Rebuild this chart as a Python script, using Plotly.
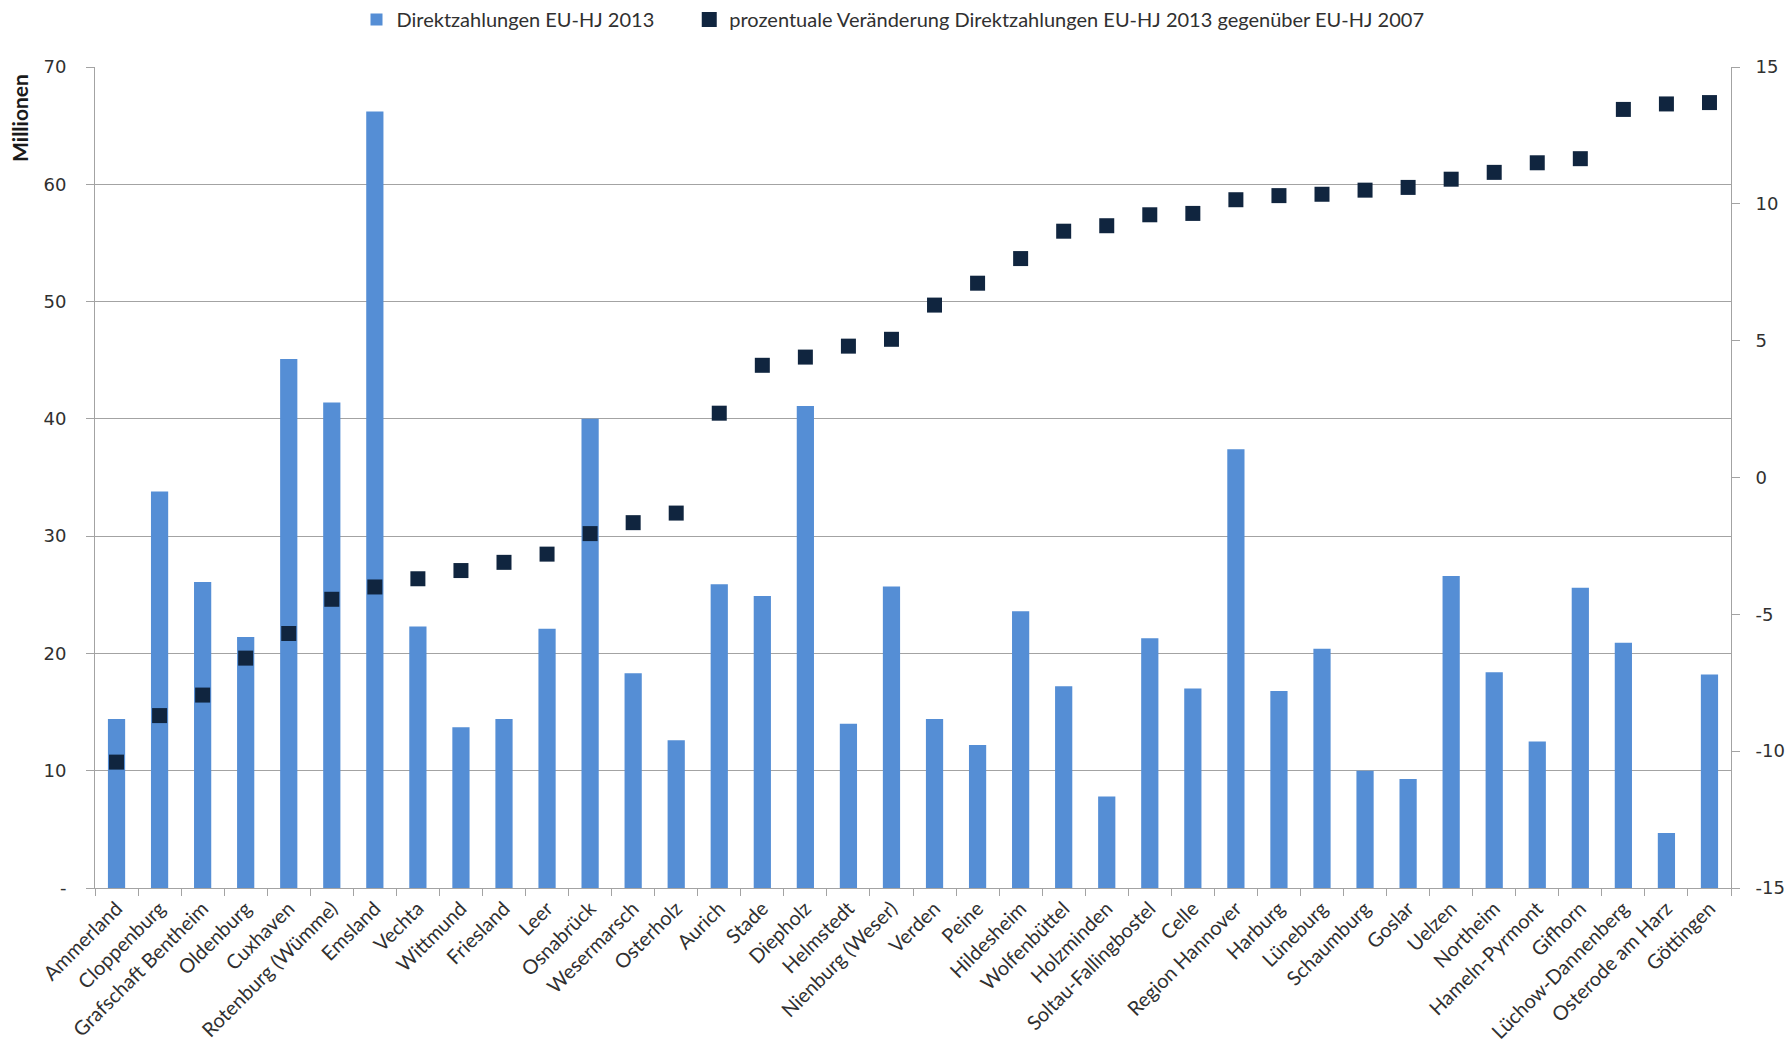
import plotly.graph_objects as go

# Landkreise / Regionen in Niedersachsen
landkreise = [
    "Ammerland", "Cloppenburg", "Grafschaft Bentheim", "Oldenburg", "Cuxhaven",
    "Rotenburg (Wümme)", "Emsland", "Vechta", "Wittmund", "Friesland", "Leer",
    "Osnabrück", "Wesermarsch", "Osterholz", "Aurich", "Stade", "Diepholz",
    "Helmstedt", "Nienburg (Weser)", "Verden", "Peine", "Hildesheim",
    "Wolfenbüttel", "Holzminden", "Soltau-Fallingbostel", "Celle",
    "Region Hannover", "Harburg", "Lüneburg", "Schaumburg", "Goslar", "Uelzen",
    "Northeim", "Hameln-Pyrmont", "Gifhorn", "Lüchow-Dannenberg",
    "Osterode am Harz", "Göttingen",
]

# Direktzahlungen EU-HJ 2013 (Mio. EUR)
direktzahlungen_2013 = [
    14.4, 33.8, 26.1, 21.4, 45.1, 41.4, 66.2, 22.3, 13.7, 14.4, 22.1,
    40.0, 18.3, 12.6, 25.9, 24.9, 41.1, 14.0, 25.7, 14.4, 12.2, 23.6,
    17.2, 7.8, 21.3, 17.0, 37.4, 16.8, 20.4, 10.0, 9.3, 26.6, 18.4,
    12.5, 25.6, 20.9, 4.7, 18.2,
]

# prozentuale Veränderung gegenüber EU-HJ 2007
veraenderung_pct = [
    -10.4, -8.7, -7.95, -6.6, -5.7, -4.45, -4.0, -3.7, -3.4, -3.1, -2.8,
    -2.05, -1.65, -1.3, 2.35, 4.1, 4.4, 4.8, 5.05, 6.3, 7.1, 8.0,
    9.0, 9.2, 9.6, 9.65, 10.15, 10.3, 10.35, 10.5, 10.6, 10.9, 11.15,
    11.5, 11.65, 13.45, 13.65, 13.7,
]

left_ticks = [0, 10, 20, 30, 40, 50, 60, 70]
left_tick_text = ["-", "10", "20", "30", "40", "50", "60", "70"]
right_ticks = [-15, -10, -5, 0, 5, 10, 15]
right_tick_text = ["-15", "-10", "-5", "0", "5", "10", "15"]

BAR_COLOR = "#558ED5"
MARKER_COLOR = "#10253F"
GRID_COLOR = "#A3A3A3"
TEXT_COLOR = "#303030"
NUM_FONT = dict(family="DejaVu Sans", size=18, color=TEXT_COLOR)
LABEL_FONT = dict(family="Lato", size=20, color=TEXT_COLOR)

fig = go.Figure()

fig.add_trace(go.Bar(
    x=landkreise,
    y=direktzahlungen_2013,
    # trailing em spaces widen the gap to the next legend entry
    name="Direktzahlungen EU-HJ 2013\u2003\u2003",
    marker=dict(color=BAR_COLOR, line=dict(width=0)),
    yaxis="y",
))

fig.add_trace(go.Scatter(
    x=landkreise,
    y=veraenderung_pct,
    name="prozentuale Veränderung Direktzahlungen EU-HJ 2013 gegenüber EU-HJ 2007",
    mode="markers",
    marker=dict(symbol="square", size=15, color=MARKER_COLOR, line=dict(width=0)),
    yaxis="y2",
))

fig.update_layout(
    width=1786,
    height=1052,
    margin=dict(l=95, r=55, t=67, b=164, autoexpand=False),
    paper_bgcolor="white",
    plot_bgcolor="white",
    bargap=0.6,
    font=LABEL_FONT,
    showlegend=True,
    legend=dict(
        orientation="h",
        xref="container",
        yref="container",
        x=0.5,
        xanchor="center",
        y=1.0,
        yanchor="top",
        font=LABEL_FONT,
        itemwidth=30,
        bgcolor="rgba(0,0,0,0)",
    ),
    xaxis=dict(
        type="category",
        range=[-0.5, len(landkreise) - 0.5],
        tickangle=-45,
        tickfont=LABEL_FONT,
        tickson="boundaries",
        ticks="outside",
        ticklen=7,
        tickcolor=GRID_COLOR,
        showline=True,
        linecolor=GRID_COLOR,
        linewidth=1,
        showgrid=False,
        zeroline=False,
        automargin=False,
    ),
    yaxis=dict(
        range=[0, 70],
        tickvals=left_ticks,
        ticktext=left_tick_text,
        tickfont=NUM_FONT,
        ticks="outside",
        ticklen=8,
        tickcolor=GRID_COLOR,
        ticklabelstandoff=16,
        showline=True,
        linecolor=GRID_COLOR,
        linewidth=1,
        showgrid=True,
        gridcolor=GRID_COLOR,
        gridwidth=1,
        zeroline=False,
        automargin=False,
    ),
    yaxis2=dict(
        range=[-15, 15],
        tickvals=right_ticks,
        ticktext=right_tick_text,
        tickfont=NUM_FONT,
        overlaying="y",
        side="right",
        ticks="outside",
        ticklen=8,
        tickcolor=GRID_COLOR,
        ticklabelstandoff=12,
        showline=True,
        linecolor=GRID_COLOR,
        linewidth=1,
        showgrid=False,
        zeroline=False,
        automargin=False,
    ),
    annotations=[
        dict(
            text="<b>Millionen</b>",
            xref="paper",
            yref="paper",
            x=0,
            y=0.938,
            xanchor="center",
            yanchor="middle",
            xshift=-75,
            textangle=-90,
            showarrow=False,
            font=dict(family="Lato", size=21, color="#1a1a1a"),
        )
    ],
)

fig.write_html("out.html")
